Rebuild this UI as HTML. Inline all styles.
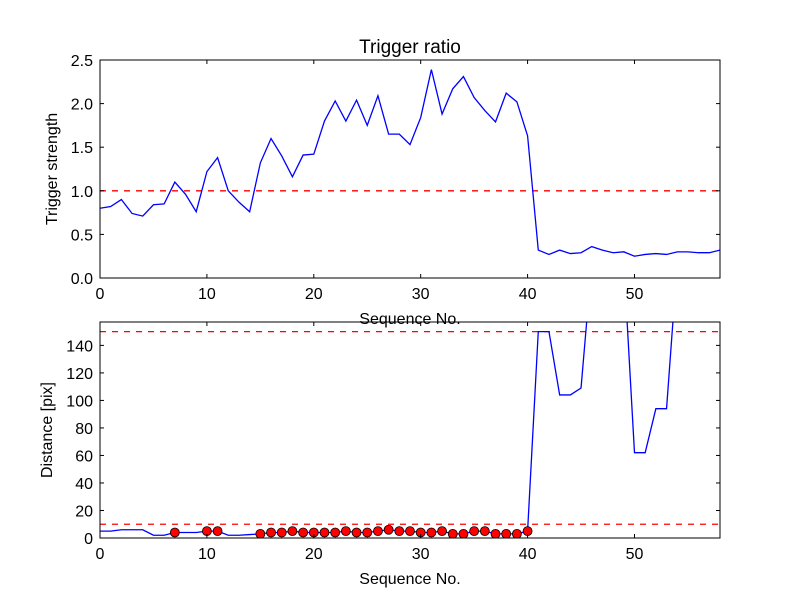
<!DOCTYPE html>
<html><head><meta charset="utf-8"><style>
body{margin:0;background:#fff}
svg text{font-family:"Liberation Sans","DejaVu Sans",sans-serif;fill:#000}
</style></head><body>
<svg id="c" width="800" height="600" xmlns="http://www.w3.org/2000/svg">
<rect width="800" height="600" fill="#fff"/>
<defs><clipPath id="cp1"><rect x="100" y="60" width="620" height="218"/></clipPath>
<clipPath id="cp2"><rect x="100" y="322" width="620" height="216"/></clipPath></defs>
<g id="g"></g>
</svg>
<script>
const seq = Array.from({length:59},(_,i)=>i);
const strength = [0.80,0.82,0.90,0.74,0.71,0.84,0.85,1.10,0.96,0.76,1.22,1.38,1.00,0.87,0.76,1.32,1.60,1.40,1.16,1.41,1.42,1.80,2.03,1.80,2.04,1.75,2.09,1.65,1.65,1.53,1.84,2.39,1.88,2.17,2.31,2.07,1.92,1.79,2.12,2.02,1.63,0.32,0.27,0.32,0.28,0.29,0.36,0.32,0.29,0.30,0.25,0.27,0.28,0.27,0.30,0.30,0.29,0.29,0.32];
const distance = [5,5,6,6,6,2,2,4,4,4,5,5,2,2,2.5,3,4,4,5,4,4,4,4,5,4,4,5,6,5,5,4,4,5,3,3,5,5,3,3,3,5,150,150,104,104,109,200,200,200,200,62,62,94,94,200,200,200,200,200];
const markerIdx = [7,10,11,15,16,17,18,19,20,21,22,23,24,25,26,27,28,29,30,31,32,33,34,35,36,37,38,39,40];
const topTicksY = ["0.0","0.5","1.0","1.5","2.0","2.5"];
const botTicksY = ["0","20","40","60","80","100","120","140"];
const ticksX = ["0","10","20","30","40","50"];
const NS="http://www.w3.org/2000/svg", G=document.getElementById('g');
function mk(t,a,name){const e=document.createElementNS(NS,t);for(const k in a)e.setAttribute(k,a[k]);


G.appendChild(e);return e;}
const X=v=>100+v*620/58;
const Y1=v=>278-v*218/2.5;
const Y2=v=>538-v*216/157;
function panel(Y,y0,y1,ticksY,clip,suffix){
  ticksY.forEach(t=>{const y=Y(+t);
    mk('line',{x1:100,x2:104,y1:y,y2:y,stroke:'#000'},'y-tick-'+suffix);
    mk('line',{x1:716,x2:720,y1:y,y2:y,stroke:'#000'},'y-tick-right-'+suffix);
    const tx=mk('text',{x:93,y:y+6,'text-anchor':'end','font-size':16},'y-tick-label-'+suffix);tx.textContent=t;});
  ticksX.forEach(t=>{const x=X(+t);
    mk('line',{x1:x,x2:x,y1:y1,y2:y1-4,stroke:'#000'},'x-tick-'+suffix);
    mk('line',{x1:x,x2:x,y1:y0,y2:y0+4,stroke:'#000'},'x-tick-top-'+suffix);
    const tx=mk('text',{x:x,y:y1+21,'text-anchor':'middle','font-size':16},'x-tick-label-'+suffix);tx.textContent=t;});
}
// top
mk('line',{x1:100,x2:720,y1:Y1(1),y2:Y1(1),stroke:'#f00','stroke-width':1.3,'stroke-dasharray':'6,6'},'threshold-line');
mk('polyline',{points:seq.map((s,i)=>X(s)+','+Y1(strength[i])).join(' '),fill:'none',stroke:'#00f','stroke-width':1.3,'clip-path':'url(#cp1)'},'strength-line');
panel(Y1,60,278,topTicksY,'cp1','top');
mk('rect',{x:100,y:60,width:620,height:218,fill:'none',stroke:'#000'},'top-axes-frame');
let t=mk('text',{x:410,y:53,'text-anchor':'middle','font-size':19},'chart-title');t.textContent='Trigger ratio';
t=mk('text',{x:410,y:324,'text-anchor':'middle','font-size':16},'top-x-axis-title');t.textContent='Sequence No.';
t=mk('text',{x:57,y:169,'text-anchor':'middle','font-size':16,transform:'rotate(-90 57 169)'},'top-y-axis-title');t.textContent='Trigger strength';
// bottom
[150,10].forEach(v=>mk('line',{x1:100,x2:720,y1:Y2(v),y2:Y2(v),stroke:'#f00','stroke-width':1.3,'stroke-dasharray':'6,6'},'distance-threshold-line'));
mk('polyline',{points:seq.map((s,i)=>X(s)+','+Y2(distance[i])).join(' '),fill:'none',stroke:'#00f','stroke-width':1.3,'clip-path':'url(#cp2)'},'distance-line');
markerIdx.forEach(i=>mk('circle',{cx:X(seq[i]),cy:Y2(distance[i]),r:4.5,fill:'#f00',stroke:'#000','stroke-width':0.8,'clip-path':'url(#cp2)'},'distance-marker'));
panel(Y2,322,538,botTicksY,'cp2','bottom');
mk('rect',{x:100,y:322,width:620,height:216,fill:'none',stroke:'#000'},'bottom-axes-frame');
t=mk('text',{x:410,y:584,'text-anchor':'middle','font-size':16},'bottom-x-axis-title');t.textContent='Sequence No.';
t=mk('text',{x:52,y:430,'text-anchor':'middle','font-size':16,transform:'rotate(-90 52 430)'},'bottom-y-axis-title');t.textContent='Distance [pix]';
</script>
</body></html>
